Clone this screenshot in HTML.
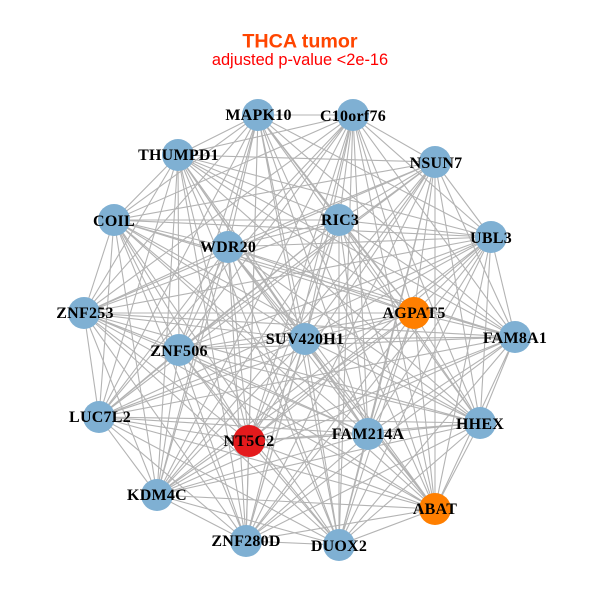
<!DOCTYPE html>
<html><head><meta charset="utf-8"><style>html,body{margin:0;padding:0;background:#fff}svg{display:block}.n{font:bold 16px "Liberation Serif",serif;fill:#000;text-anchor:middle;letter-spacing:.25px}</style></head><body>
<svg width="600" height="600" viewBox="0 0 600 600" xmlns="http://www.w3.org/2000/svg">
<g fill="none" stroke="#b3b3b3" stroke-width="1.1">
<path d="M258 115L353 115M258 115L491 237M258 115L515 337M258 115L480 423M258 115L435 509M258 115L339 545M258 115L246 541M258 115L157 495M258 115L99 417M258 115L84 313M258 115L114 220M258 115L178 155M258 115L228 247M258 115L339 220M258 115L414 313M258 115L305 339M258 115L179 350M258 115L249 441M258 115L368 434"/>
<path d="M353 115L435 162M353 115L491 237M353 115L515 337M353 115L480 423M353 115L435 509M353 115L339 545M353 115L246 541M353 115L157 495M353 115L99 417M353 115L84 313M353 115L114 220M353 115L178 155M353 115L228 247M353 115L339 220M353 115L414 313M353 115L305 339M353 115L179 350M353 115L249 441M353 115L368 434"/>
<path d="M435 162L491 237M435 162L515 337M435 162L480 423M435 162L435 509M435 162L339 545M435 162L246 541M435 162L157 495M435 162L99 417M435 162L84 313M435 162L114 220M435 162L178 155M435 162L228 247M435 162L339 220M435 162L414 313M435 162L305 339M435 162L179 350M435 162L249 441M435 162L368 434"/>
<path d="M491 237L515 337M491 237L480 423M491 237L435 509M491 237L339 545M491 237L246 541M491 237L157 495M491 237L99 417M491 237L84 313M491 237L114 220M491 237L178 155M491 237L228 247M491 237L339 220M491 237L414 313M491 237L305 339M491 237L179 350M491 237L249 441M491 237L368 434"/>
<path d="M515 337L480 423M515 337L435 509M515 337L339 545M515 337L246 541M515 337L157 495M515 337L99 417M515 337L84 313M515 337L114 220M515 337L178 155M515 337L228 247M515 337L339 220M515 337L414 313M515 337L305 339M515 337L179 350M515 337L249 441M515 337L368 434"/>
<path d="M480 423L435 509M480 423L339 545M480 423L246 541M480 423L157 495M480 423L99 417M480 423L84 313M480 423L114 220M480 423L178 155M480 423L228 247M480 423L339 220M480 423L414 313M480 423L305 339M480 423L179 350M480 423L249 441M480 423L368 434"/>
<path d="M435 509L339 545M435 509L246 541M435 509L157 495M435 509L99 417M435 509L84 313M435 509L114 220M435 509L178 155M435 509L228 247M435 509L339 220M435 509L414 313M435 509L305 339M435 509L179 350M435 509L249 441M435 509L368 434"/>
<path d="M339 545L246 541M339 545L157 495M339 545L99 417M339 545L84 313M339 545L114 220M339 545L178 155M339 545L228 247M339 545L339 220M339 545L414 313M339 545L305 339M339 545L179 350M339 545L249 441M339 545L368 434"/>
<path d="M246 541L157 495M246 541L99 417M246 541L84 313M246 541L114 220M246 541L178 155M246 541L228 247M246 541L339 220M246 541L414 313M246 541L305 339M246 541L179 350M246 541L249 441M246 541L368 434"/>
<path d="M157 495L99 417M157 495L84 313M157 495L114 220M157 495L178 155M157 495L228 247M157 495L339 220M157 495L414 313M157 495L305 339M157 495L179 350M157 495L249 441M157 495L368 434"/>
<path d="M99 417L84 313M99 417L114 220M99 417L178 155M99 417L228 247M99 417L339 220M99 417L414 313M99 417L305 339M99 417L179 350M99 417L249 441M99 417L368 434"/>
<path d="M84 313L114 220M84 313L178 155M84 313L228 247M84 313L339 220M84 313L414 313M84 313L305 339M84 313L179 350M84 313L249 441M84 313L368 434"/>
<path d="M114 220L178 155M114 220L228 247M114 220L339 220M114 220L414 313M114 220L305 339M114 220L179 350M114 220L249 441M114 220L368 434"/>
<path d="M178 155L228 247M178 155L339 220M178 155L414 313M178 155L305 339M178 155L179 350M178 155L249 441M178 155L368 434"/>
<path d="M228 247L339 220M228 247L414 313M228 247L305 339M228 247L179 350M228 247L249 441M228 247L368 434"/>
<path d="M339 220L414 313M339 220L305 339M339 220L179 350M339 220L249 441M339 220L368 434"/>
<path d="M414 313L305 339M414 313L179 350M414 313L249 441M414 313L368 434"/>
<path d="M305 339L179 350M305 339L249 441M305 339L368 434"/>
<path d="M179 350L249 441M179 350L368 434"/>
<path d="M249 441L368 434"/>
</g>
<g fill="#7fb0d3">
<circle cx="258" cy="115" r="16"/><circle cx="353" cy="115" r="16"/><circle cx="435" cy="162" r="16"/><circle cx="491" cy="237" r="16"/><circle cx="515" cy="337" r="16"/><circle cx="480" cy="423" r="16"/><circle cx="339" cy="545" r="16"/><circle cx="246" cy="541" r="16"/><circle cx="157" cy="495" r="16"/><circle cx="99" cy="417" r="16"/><circle cx="84" cy="313" r="16"/><circle cx="114" cy="220" r="16"/><circle cx="178" cy="155" r="16"/><circle cx="228" cy="247" r="16"/><circle cx="339" cy="220" r="16"/><circle cx="305" cy="339" r="16"/><circle cx="179" cy="350" r="16"/><circle cx="368" cy="434" r="16"/>
</g>
<circle cx="435" cy="509" r="16" fill="#ff7f00"/><circle cx="414" cy="313" r="16" fill="#ff7f00"/><circle cx="249" cy="441" r="16" fill="#e41a1c"/>
<g class="n">
<text class="n" x="258.5" y="120">MAPK10</text>
<text class="n" x="353" y="121">C10orf76</text>
<text class="n" x="436" y="168">NSUN7</text>
<text class="n" x="491" y="243">UBL3</text>
<text class="n" x="515" y="343">FAM8A1</text>
<text class="n" x="480" y="429">HHEX</text>
<text class="n" x="435" y="514">ABAT</text>
<text class="n" x="339" y="551">DUOX2</text>
<text class="n" x="246" y="546">ZNF280D</text>
<text class="n" x="157" y="500">KDM4C</text>
<text class="n" x="100" y="422">LUC7L2</text>
<text class="n" x="85" y="318">ZNF253</text>
<text class="n" x="114" y="226">COIL</text>
<text class="n" x="178.5" y="160">THUMPD1</text>
<text class="n" x="228" y="252">WDR20</text>
<text class="n" x="340" y="225">RIC3</text>
<text class="n" x="414" y="318">AGPAT5</text>
<text class="n" x="305" y="344">SUV420H1</text>
<text class="n" x="179" y="356">ZNF506</text>
<text class="n" x="249" y="446">NT5C2</text>
<text class="n" x="368" y="439">FAM214A</text>
</g>
<text x="300" y="47.5" text-anchor="middle" font-family="Liberation Sans, sans-serif" font-weight="bold" font-size="19.7" fill="#ff4500">THCA tumor</text>
<text x="300" y="65" text-anchor="middle" font-family="Liberation Sans, sans-serif" font-size="16.4" fill="#ff0000">adjusted p-value &lt;2e-16</text>
</svg>
</body></html>
